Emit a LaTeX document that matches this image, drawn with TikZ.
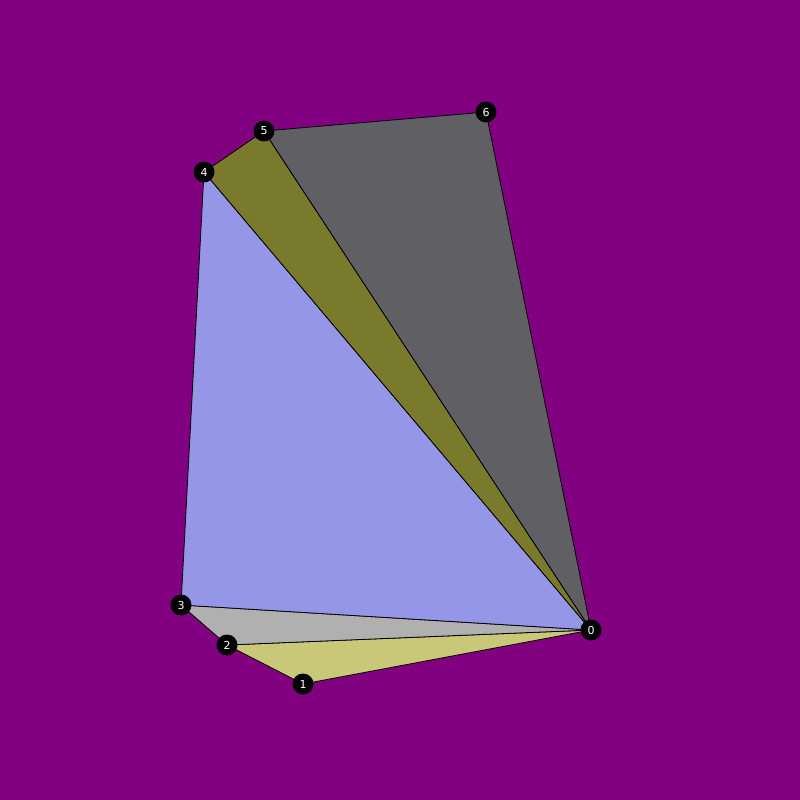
\documentclass[tikz,border=0pt]{standalone}
\usepackage{fontspec}
\setmainfont{DejaVu Sans}
\definecolor{bg}{HTML}{800080}
\definecolor{cyel}{HTML}{C8C878}
\definecolor{cgry}{HTML}{B0B0B0}
\definecolor{clav}{HTML}{9696E8}
\definecolor{coli}{HTML}{7A7A2C}
\definecolor{cdgr}{HTML}{606064}
\tikzset{
  tri/.style={draw=black, line width=0.8pt, line join=round},
  vtx/.style={circle, fill=black, minimum size=21pt, inner sep=0pt, text=white, font=\fontsize{11}{11}\selectfont}
}
\begin{document}
\begin{tikzpicture}[x=1pt,y=-1pt]
\fill[bg] (0,0) rectangle (800,800);
\useasboundingbox (0,0) rectangle (800,800);
\coordinate (p0) at (591,630);
\coordinate (p1) at (303,684);
\coordinate (p2) at (227,645);
\coordinate (p3) at (181,605);
\coordinate (p4) at (204,172);
\coordinate (p5) at (264,131);
\coordinate (p6) at (486,112);
\filldraw[tri, fill=cyel] (p0) -- (p1) -- (p2) -- cycle;
\filldraw[tri, fill=cgry] (p0) -- (p2) -- (p3) -- cycle;
\filldraw[tri, fill=clav] (p0) -- (p3) -- (p4) -- cycle;
\filldraw[tri, fill=coli] (p0) -- (p4) -- (p5) -- cycle;
\filldraw[tri, fill=cdgr] (p0) -- (p5) -- (p6) -- cycle;
\node[vtx] (n0) at (p0) {0};
\node[vtx] (n1) at (p1) {1};
\node[vtx] (n2) at (p2) {2};
\node[vtx] (n3) at (p3) {3};
\node[vtx] (n4) at (p4) {4};
\node[vtx] (n5) at (p5) {5};
\node[vtx] (n6) at (p6) {6};
\end{tikzpicture}
\end{document}
